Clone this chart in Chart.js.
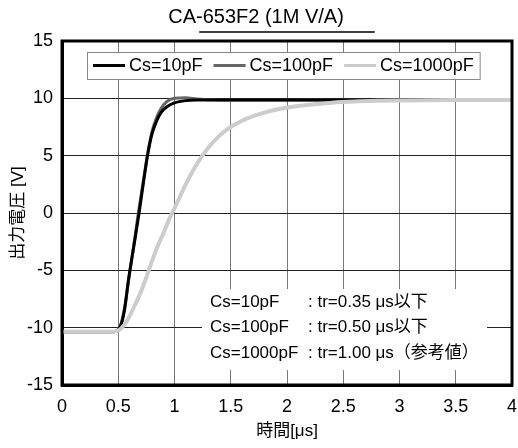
<!DOCTYPE html>
<html>
<head>
<meta charset="utf-8">
<script src="https://cdn.jsdelivr.net/npm/chart.js@4.4.1/dist/chart.umd.min.js"></script>
<style>
  html, body { margin: 0; padding: 0; background: #fff; }
  #wrap { width: 518px; height: 448px; }
</style>
</head>
<body>
<div id="wrap"><canvas id="stepChart" width="518" height="448"></canvas></div>
<script>
const FONT = '"Liberation Sans", Arial, "Noto Sans CJK JP", sans-serif';

const chartTitle = 'CA-653F2 (1M V/A)';
const seriesLabels = ['Cs=10pF', 'Cs=100pF', 'Cs=1000pF'];

// Cs=10pF
const time10 = [0, 0.46, 0.5, 0.53, 0.56, 0.59, 0.62, 0.65, 0.685, 0.72, 0.76, 0.8, 0.84, 0.88, 0.93, 1.0, 1.1, 1.2, 1.5, 2, 2.5, 3, 3.5, 4];
const volt10 = [-10.35, -10.35, -10.2, -9.6, -8.2, -5.9, -4.0, -2.2, 0, 2.4, 5.0, 6.9, 8.0, 8.75, 9.25, 9.6, 9.8, 9.85, 9.85, 9.85, 9.85, 9.85, 9.85, 9.85];

// Cs=100pF
const time100 = [0, 0.46, 0.5, 0.53, 0.56, 0.59, 0.62, 0.65, 0.68, 0.72, 0.76, 0.8, 0.84, 0.88, 0.93, 1.0, 1.1, 1.2, 1.35, 1.6, 2, 2.5, 3, 3.5, 4];
const volt100 = [-10.35, -10.35, -10.15, -9.5, -8.0, -6.0, -4.0, -2.0, 0.1, 2.6, 5.1, 7.1, 8.3, 9.1, 9.7, 10.0, 10.05, 9.95, 9.88, 9.85, 9.85, 9.85, 9.85, 9.85, 9.85];

// Cs=1000pF
const time1000 = [0, 0.45, 0.5, 0.55, 0.6, 0.65, 0.7, 0.75, 0.8, 0.85, 0.9, 0.95, 1.0, 1.1, 1.2, 1.3, 1.4, 1.5, 1.6, 1.7, 1.8, 1.9, 2.0, 2.2, 2.4, 2.6, 2.8, 3.0, 3.5, 4.0];
const volt1000 = [-10.35, -10.35, -10.25, -9.8, -9.0, -8.0, -6.9, -5.6, -4.2, -2.9, -1.8, -0.6, 0.4, 2.5, 4.3, 5.7, 6.75, 7.5, 8.05, 8.45, 8.75, 9.0, 9.2, 9.45, 9.62, 9.72, 9.78, 9.82, 9.85, 9.85];

const noteLabels = ['Cs=10pF', 'Cs=100pF', 'Cs=1000pF'];
const noteValues = [': tr=0.35 μs以下', ': tr=0.50 μs以下', ': tr=1.00 μs（参考値）'];

function toPoints(xs, ys) {
    return xs.map((x, i) => ({ x: x, y: ys[i] }));
}

const overlayPlugin = {
    id: 'overlay',
    beforeDatasetsDraw(chart) {
        const ctx = chart.ctx;
        const area = chart.chartArea;
        ctx.save();

        // legend box
        ctx.font = '18px ' + FONT;
        const lx = area.left + 25, ly = area.top + 11, lh = 27;
        let x = lx + 6;
        const items = chart.data.datasets.map(ds => {
            const item = { x: x, ds: ds, w: ctx.measureText(ds.label).width };
            x += 36 + item.w + 11;
            return item;
        });
        const right = x - 11 + 6;
        ctx.fillStyle = '#fff';
        ctx.fillRect(lx, ly, right - lx, lh);
        ctx.strokeStyle = '#888';
        ctx.lineWidth = 1;
        ctx.strokeRect(lx + 0.5, ly + 0.5, right - lx, lh);
        items.forEach(it => {
            ctx.strokeStyle = it.ds.borderColor;
            ctx.lineWidth = 3;
            ctx.beginPath();
            ctx.moveTo(it.x, ly + lh / 2);
            ctx.lineTo(it.x + 32, ly + lh / 2);
            ctx.stroke();
            ctx.fillStyle = '#000';
            ctx.textBaseline = 'middle';
            ctx.fillText(it.ds.label, it.x + 36, ly + lh / 2 + 1);
        });

        // note box
        ctx.fillStyle = '#fff';
        ctx.fillRect(area.left + 140, area.top + 248, 285, 81);
        ctx.font = '17px ' + FONT;
        ctx.fillStyle = '#000';
        ctx.textBaseline = 'middle';
        noteLabels.forEach((t, i) => {
            const y = area.top + 261 + i * 25.5;
            ctx.fillText(t, area.left + 148, y);
            ctx.fillText(noteValues[i], area.left + 246, y);
        });
        ctx.restore();
    },
    afterDraw(chart) {
        const ctx = chart.ctx;
        const area = chart.chartArea;
        ctx.save();
        // frame
        ctx.strokeStyle = '#000';
        ctx.lineWidth = 3;
        ctx.strokeRect(area.left, area.top, area.right - area.left, area.bottom - area.top);
        // title underline
        ctx.font = '20px ' + FONT;
        const w = ctx.measureText(chartTitle).width;
        const cx = (area.left + area.right) / 2;
        ctx.lineWidth = 1.5;
        ctx.beginPath();
        ctx.moveTo(cx - w / 2, 32);
        ctx.lineTo(cx + w / 2, 32);
        ctx.stroke();
        ctx.restore();
    }
};

new Chart(document.getElementById('stepChart'), {
    type: 'line',
    data: {
        datasets: [
            { label: seriesLabels[0], data: toPoints(time10, volt10), borderColor: '#000000', borderWidth: 3, order: 1 },
            { label: seriesLabels[1], data: toPoints(time100, volt100), borderColor: '#666666', borderWidth: 3, order: 2 },
            { label: seriesLabels[2], data: toPoints(time1000, volt1000), borderColor: '#cccccc', borderWidth: 4, order: 0 }
        ]
    },
    options: {
        responsive: false,
        animation: false,
        devicePixelRatio: 1,
        parsing: false,
        elements: {
            point: { radius: 0 },
            line: { cubicInterpolationMode: 'monotone', fill: false }
        },
        layout: { padding: { left: 0, right: 6, top: 0, bottom: 0 } },
        plugins: {
            legend: { display: false },
            tooltip: { enabled: false },
            title: {
                display: true,
                text: chartTitle,
                color: '#000',
                font: { family: FONT, size: 20, weight: 'normal' },
                padding: { top: 5, bottom: 12 }
            }
        },
        scales: {
            x: {
                type: 'linear',
                min: 0,
                max: 4,
                afterFit(scale) {
                    scale.height = 63;
                    scale.paddingLeft = 0;
                    scale.paddingRight = 0;
                },
                ticks: {
                    stepSize: 0.5,
                    color: '#000',
                    padding: 11,
                    font: { family: FONT, size: 18 },
                    callback: v => String(v)
                },
                grid: { color: '#777', lineWidth: 1, drawTicks: false },
                border: { color: '#000', width: 3 },
                title: {
                    display: true,
                    text: '時間[μs]',
                    color: '#000',
                    font: { family: FONT, size: 17 },
                    padding: { top: 0, bottom: 6 }
                }
            },
            y: {
                type: 'linear',
                min: -15,
                max: 15,
                afterFit(scale) { scale.width = 62; },
                ticks: { stepSize: 5, color: '#000', padding: 9, font: { family: FONT, size: 18 } },
                grid: { color: '#222', lineWidth: 1, drawTicks: false },
                border: { color: '#000', width: 3 },
                title: {
                    display: true,
                    text: '出力電圧 [V]',
                    color: '#000',
                    font: { family: FONT, size: 17 },
                    padding: { top: 8, bottom: 0 }
                }
            }
        }
    },
    plugins: [overlayPlugin]
});
</script>
</body>
</html>
